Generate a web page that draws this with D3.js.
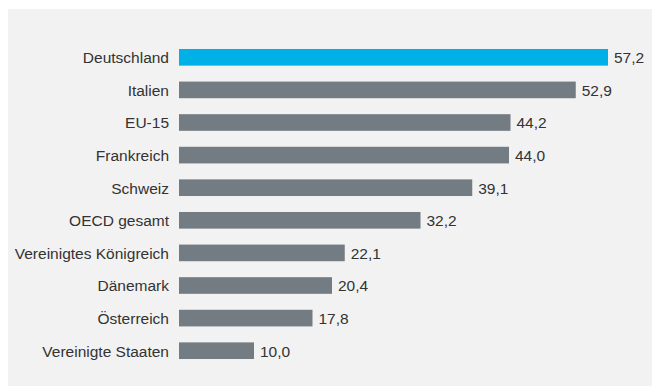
<!doctype html>
<html lang="de">
<head>
<meta charset="utf-8">
<title>Balkendiagramm</title>
<script src="https://d3js.org/d3.v7.min.js"></script>
<style>
  body { margin: 0; background: #fff; }
  svg { display: block; }
  .labels text, .values text {
    font-family: "Liberation Sans", Arial, Helvetica, sans-serif;
    font-size: 15.5px;
    fill: #333;
  }
</style>
</head>
<body>
<div id="chart"></div>
<script>
  let countries = [
    'Deutschland',
    'Italien',
    'EU-15',
    'Frankreich',
    'Schweiz',
    'OECD gesamt',
    'Vereinigtes Königreich',
    'Dänemark',
    'Österreich',
    'Vereinigte Staaten',
  ]
  let values = [57.2, 52.9, 44.2, 44.0, 39.1, 32.2, 22.1, 20.4, 17.8, 10.0]
  let highlight = 'Deutschland'

  let width = 652
  let height = 387

  let svg = d3.select('#chart')
    .append('svg')
    .attr('width', width)
    .attr('height', height)

  // grauer Hintergrund
  svg.append('rect')
    .attr('x', 8)
    .attr('y', 9)
    .attr('width', width - 8)
    .attr('height', height - 10)
    .attr('fill', '#f2f2f2')

  let x = d3.scaleLinear()
    .domain([0, 57.2])
    .range([179, 608])

  let y = d3.scaleBand()
    .domain(countries)
    .range([41, 367])
    .paddingInner(0.49)
    .paddingOuter(0.245)

  let data = countries.map((c, i) => ({name: c, value: values[i]}))

  svg.append('g')
    .attr('class', 'bars')
    .selectAll('rect')
    .data(data)
    .enter().append('rect')
      .attr('x', x(0))
      .attr('y', d => y(d.name))
      .attr('width', d => x(d.value) - x(0))
      .attr('height', y.bandwidth())
      .attr('fill', d => d.name == highlight ? '#00b0e6' : '#737b83')

  svg.append('g')
    .attr('class', 'labels')
    .selectAll('text')
    .data(data)
    .enter().append('text')
      .attr('x', 169)
      .attr('y', d => y(d.name) + y.bandwidth() / 2)
      .attr('dy', '0.38em')
      .attr('text-anchor', 'end')
      .text(d => d.name)

  svg.append('g')
    .attr('class', 'values')
    .selectAll('text')
    .data(data)
    .enter().append('text')
      .attr('x', d => x(d.value) + 6)
      .attr('y', d => y(d.name) + y.bandwidth() / 2)
      .attr('dy', '0.38em')
      .text(d => d3.format('.1f')(d.value).replace('.', ','))
</script>
</body>
</html>
